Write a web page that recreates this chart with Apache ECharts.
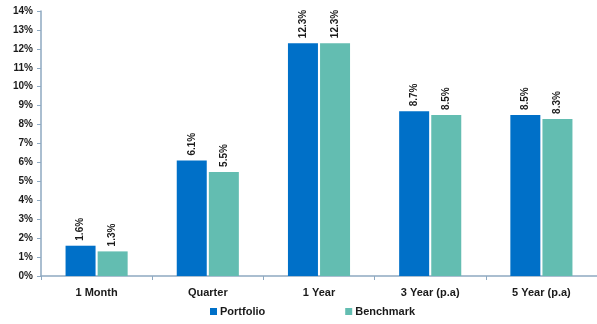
<!DOCTYPE html>
<html><head><meta charset="utf-8">
<script src="https://cdn.jsdelivr.net/npm/echarts@6/dist/echarts.min.js"></script>
<style>html,body{margin:0;padding:0;background:#fff}#c{width:597px;height:324px}</style>
</head><body><div id="c"></div>
<script>
const categories = ['1 Month', 'Quarter', '1 Year', '3 Year (p.a)', '5 Year (p.a)'];
const portfolio = [1.6, 6.1, 12.3, 8.7, 8.5];
const benchmark = [1.3, 5.5, 12.3, 8.5, 8.3];
const seriesNames = ['Portfolio', 'Benchmark'];
const font = '"Liberation Sans Narrow", "Liberation Sans", Arial, sans-serif';
const chart = echarts.init(document.getElementById('c'), null, {renderer: 'canvas'});
const lbl = {
  show: true, position: 'top', rotate: 90, align: 'left', verticalAlign: 'middle', distance: 5,
  formatter: p => p.value.toFixed(1) + '%', fontFamily: font, fontWeight: 'bold', fontSize: 10, color: '#1a1a1a'
};
chart.setOption({
  animation: false,
  textStyle: {fontFamily: font},
  grid: {left: 41, right: 0, top: 11, bottom: 48, containLabel: false},
  legend: {
    bottom: 2, left: 205, itemGap: 80, itemWidth: 7, itemHeight: 7, icon: 'rect',
    textStyle: {fontFamily: font, fontWeight: 'bold', fontSize: 11, color: '#1a1a1a', padding: [0, 0, 0, -2]},
    data: seriesNames
  },
  xAxis: {
    type: 'category', data: categories,
    axisLine: {lineStyle: {color: '#8EA9C1', width: 1.5}},
    axisTick: {show: true, length: 4, lineStyle: {color: '#8EA9C1'}},
    axisLabel: {fontFamily: font, fontWeight: 'bold', fontSize: 11, color: '#1a1a1a', margin: 11}
  },
  yAxis: {
    type: 'value', min: 0, max: 14, interval: 1,
    splitLine: {show: false},
    axisLine: {show: true, lineStyle: {color: '#8EA9C1', width: 1.5}},
    axisTick: {show: true, length: 4, lineStyle: {color: '#8EA9C1'}},
    axisLabel: {formatter: v => v + '%', fontFamily: font, fontWeight: 'bold', fontSize: 10, color: '#1a1a1a', margin: 8}
  },
  series: [
    {name: seriesNames[0], type: 'bar', data: portfolio, barWidth: 30, barGap: '7%', itemStyle: {color: '#0070C8'}, label: lbl},
    {name: seriesNames[1], type: 'bar', data: benchmark, barWidth: 30, itemStyle: {color: '#63BDB1'}, label: lbl}
  ]
});
</script></body></html>
